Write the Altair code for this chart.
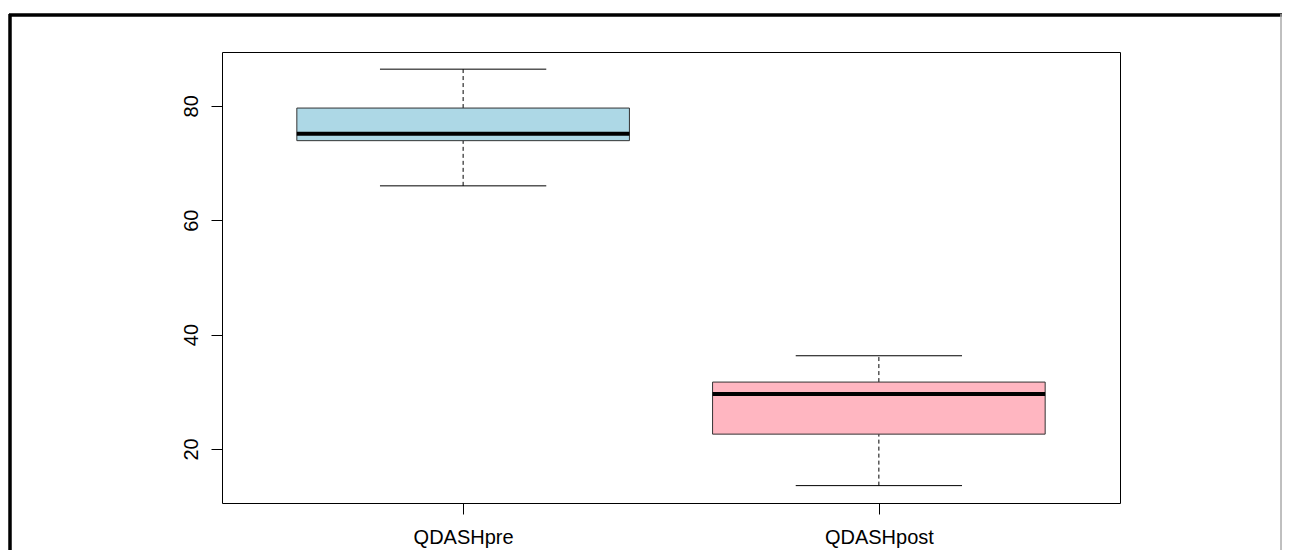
import altair as alt
import pandas as pd

groups = ["QDASHpre", "QDASHpost"]
positions = [1, 2]
lower_whisker = [66.0, 13.6]
q1 = [73.9, 22.6]
median = [75.1, 29.6]
q3 = [79.6, 31.7]
upper_whisker = [86.4, 36.3]
fills = ["#ADD8E6", "#FFB6C1"]
y_ticks = [20, 40, 60, 80]

df = pd.DataFrame({
    "group": groups, "pos": positions, "lw": lower_whisker, "q1": q1,
    "med": median, "q3": q3, "uw": upper_whisker, "fill": fills,
})

FONT = "Liberation Sans"
label_expr = " : ".join(
    [f"datum.value == {p} ? '{g}'" for p, g in zip(positions, groups)] + ["''"]
)

xs = alt.Scale(domain=[0.42, 2.58], nice=False, zero=False)
ys = alt.Scale(domain=[10.56, 89.4], nice=False, zero=False)

xaxis = alt.Axis(values=positions, labelExpr=label_expr, title=None, grid=False,
                 domain=False, ticks=True, tickSize=11, tickColor="black",
                 labelFont=FONT, labelFontSize=20, labelColor="black", labelPadding=13)
yaxis = alt.Axis(values=y_ticks, title=None, grid=False, domain=False, ticks=True,
                 tickSize=11, tickColor="black", labelAngle=-90, labelAlign="center",
                 labelBaseline="bottom", labelFont=FONT, labelFontSize=20,
                 labelColor="black", labelPadding=10)

base = alt.Chart(df).transform_calculate(
    bl="datum.pos - 0.4", br="datum.pos + 0.4",
    cl="datum.pos - 0.2", cr="datum.pos + 0.2",
)

w_low = base.mark_rule(color="black", strokeDash=[4, 3], strokeWidth=1).encode(
    x=alt.X("pos:Q", scale=xs, axis=xaxis),
    y=alt.Y("lw:Q", scale=ys, axis=yaxis), y2="q1:Q")
w_up = base.mark_rule(color="black", strokeDash=[4, 3], strokeWidth=1).encode(
    x=alt.X("pos:Q", scale=xs), y=alt.Y("q3:Q", scale=ys), y2="uw:Q")
cap_low = base.mark_rule(color="black", strokeWidth=1).encode(
    x=alt.X("cl:Q", scale=xs), x2="cr:Q", y=alt.Y("lw:Q", scale=ys))
cap_up = base.mark_rule(color="black", strokeWidth=1).encode(
    x=alt.X("cl:Q", scale=xs), x2="cr:Q", y=alt.Y("uw:Q", scale=ys))
box = base.mark_rect(stroke="#333333", strokeWidth=1).encode(
    x=alt.X("bl:Q", scale=xs), x2="br:Q",
    y=alt.Y("q1:Q", scale=ys), y2="q3:Q",
    fill=alt.Fill("fill:N", scale=None))
med = base.mark_rule(color="black", strokeWidth=4).encode(
    x=alt.X("bl:Q", scale=xs), x2="br:Q", y=alt.Y("med:Q", scale=ys))

# outer figure border (decoration)
border_top = alt.Chart(df).mark_rule(color="black", strokeWidth=3).encode(
    x=alt.value(-213), x2=alt.value(1060), y=alt.value(-37))
border_left = alt.Chart(df).mark_rule(color="black", strokeWidth=3).encode(
    x=alt.value(-212), y=alt.value(-38), y2=alt.value(520))
border_right = alt.Chart(df).mark_rule(color="#aaaaaa", strokeWidth=1).encode(
    x=alt.value(1059), y=alt.value(-38), y2=alt.value(520))

chart = alt.layer(
    w_low, w_up, cap_low, cap_up, box, med, border_top, border_left, border_right
).properties(
    width=898, height=451,
    autosize=alt.AutoSizeParams(type="none"),
    padding={"left": 214, "top": 44, "right": 162, "bottom": 47},
).configure(background="white").configure_view(stroke="black", strokeWidth=1)

chart.save("out.html", embed_options={"renderer": "svg", "actions": False})
